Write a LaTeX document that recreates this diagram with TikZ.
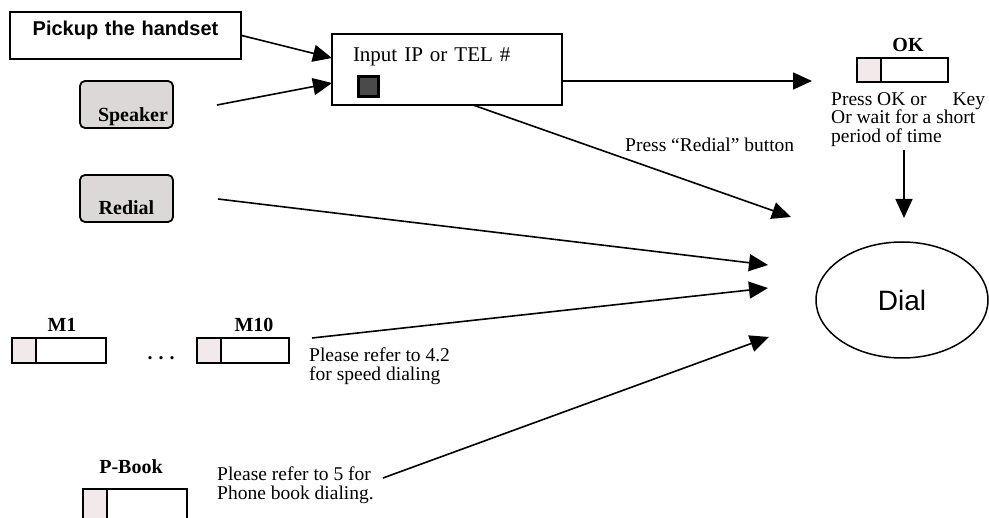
\documentclass[tikz,border=0pt]{standalone}
\usepackage{fontspec}
\setmainfont{Liberation Serif}
\newfontfamily\arialfont{Liberation Sans}
\usetikzlibrary{arrows.meta,shapes.geometric}
\definecolor{softgray}{HTML}{DCD8D8}
\definecolor{keypink}{HTML}{F2EAEA}
\definecolor{sqgray}{HTML}{4A4A4A}
\tikzset{
  conn/.style={line width=1.6pt, -{Triangle[length=19pt,width=17pt]}},
  plainbox/.style={draw, line width=1.5pt, inner sep=0},
  softkey/.style={draw, line width=1.8pt, fill=softgray, rounded corners=5pt, inner sep=0,
    font=\fontsize{20}{20}\selectfont\bfseries},
  keybox/.style={draw, line width=1.5pt, inner sep=0, minimum height=25pt, minimum width=#1,
    path picture={
      \fill[keypink] (path picture bounding box.north west) rectangle ([xshift=24pt]path picture bounding box.south west);
      \draw[line width=1.5pt] ([xshift=24pt]path picture bounding box.north west) -- ([xshift=24pt]path picture bounding box.south west);
    }},
  keybox/.default=92pt,
  txt/.style={inner sep=0, align=left, font=\fontsize{19.5}{18.5}\selectfont, anchor=north west},
  keylbl/.style={inner sep=0, anchor=base, font=\fontsize{20}{20}\selectfont\bfseries},
}
\begin{document}
\begin{tikzpicture}[x=1pt,y=-1pt]
\useasboundingbox (0,0) rectangle (989,518);
\clip (0,0) rectangle (989,518);

% boxes
\node[plainbox, text width=231pt, text height=24pt, text depth=23pt, align=center,
      font=\arialfont\bfseries\fontsize{20}{20}\selectfont] (pick) at (125.5,35.5) {Pickup the handset};
\node[softkey, inner xsep=5pt, text width=83pt, text height=41pt, text depth=6pt, align=right] (spk) at (126.5,104.5) {Speaker};
\node[softkey, text width=93pt, text height=40pt, text depth=7pt, align=center] (red) at (126.5,198.5) {Redial};
\node[plainbox, inner xsep=21pt, text width=188pt, text height=28pt, text depth=43pt, align=left,
      font=\fontsize{21}{21}\selectfont] (inp) at (447,69.5) {Input IP or TEL \#};
\node[draw, line width=3pt, fill=sqgray, minimum size=20pt, inner sep=0] (sq) at (368,86.5) {};

% keys
\node[keybox=91pt, minimum height=24pt] (ok) at (902.5,70) {};
\node[keylbl] (oklbl) at (908,52) {OK};
\node[keybox=94pt] (m1) at (59,350.5) {};
\node[keylbl] (m1lbl) at (62,332) {M1};
\node[keybox=92pt] (m10) at (243,350.5) {};
\node[keylbl] (m10lbl) at (254,332) {M10};
\node[inner sep=0, anchor=base, font=\fontsize{20}{20}\selectfont\bfseries] (dots) at (161,360) {.\hspace{6pt}.\hspace{6pt}.};
\node[keybox=104pt, minimum height=31pt] (pb) at (135,504.5) {};
\node[keylbl] (pblbl) at (131,474) {P-Book};

% Dial
\node[draw, ellipse, line width=1.5pt, minimum width=172pt, minimum height=116pt, inner sep=0,
      font=\arialfont\fontsize{28}{28}\selectfont] (dial) at (902,300) {Dial};

% texts
\node[txt] (redtxt) at (625,138) {Press “Redial” button};
\node[txt] (oktxt) at (831,92) {Press OK or\hspace{26pt}Key\\Or wait for a short\\period of time};
\node[txt] (mtxt) at (309,348) {Please refer to 4.2\\for speed dialing};
\node[txt] (pbtxt) at (217,467) {Please refer to 5 for\\Phone book dialing.};

% connector coordinates
\coordinate (in1) at (332,58);
\coordinate (in2) at (332,83);
\coordinate (spkout) at (217,105);
\coordinate (redout) at (218,199);
\coordinate (inpout) at (562,81);
\coordinate (okin) at (812,81);
\coordinate (inpdown) at (473,105);
\coordinate (d1) at (791,217);
\coordinate (oktxtout) at (904,150);
\coordinate (d0) at (904,218);
\coordinate (d2) at (768,265);
\coordinate (d3) at (768,288);
\coordinate (mout) at (312,338);
\coordinate (pout) at (383,478);
\coordinate (d4) at (769,337);

% connectors
\draw[conn] (pick.east) -- (in1);
\draw[conn] (spkout) -- (in2);
\draw[conn] (inpout) -- (okin);
\draw[conn] (inpdown) -- (d1);
\draw[conn] (oktxtout) -- (d0);
\draw[conn] (redout) -- (d2);
\draw[conn] (mout) -- (d3);
\draw[conn] (pout) -- (d4);
\end{tikzpicture}
\end{document}
